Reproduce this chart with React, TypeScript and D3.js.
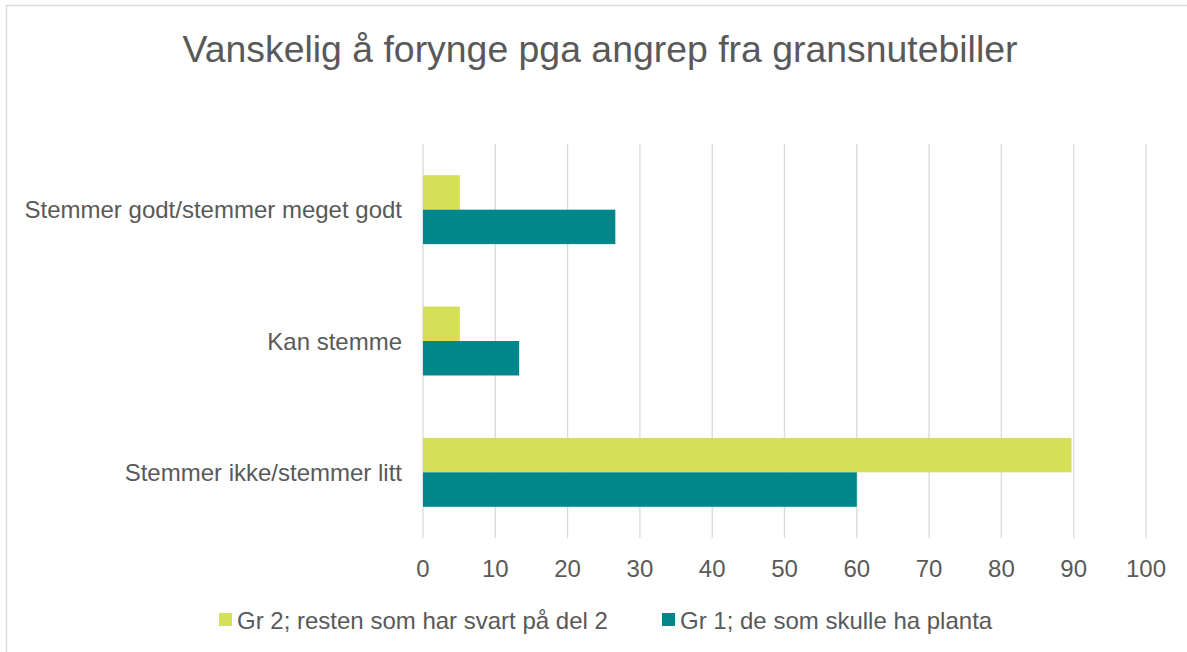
import React from 'react';
import * as d3 from 'd3';

const categories = ['Stemmer godt/stemmer meget godt', 'Kan stemme', 'Stemmer ikke/stemmer litt'];
const seriesNames = ['Gr 2; resten som har svart på del 2', 'Gr 1; de som skulle ha planta'];
const gr2Values = [5.1, 5.1, 89.7];
const gr1Values = [26.6, 13.3, 60.0];
const xTicks = [0, 10, 20, 30, 40, 50, 60, 70, 80, 90, 100];
const colors = ['#d4df5a', '#00878b'];

const W = 1187;
const H = 652;
const font = 'Liberation Sans, Arial, sans-serif';
const textColor = '#595959';

const App = () => {
  const x = d3.scaleLinear().domain([0, 100]).range([423, 1146]);
  const y = d3.scaleBand<string>()
    .domain(categories)
    .range([144, 538])
    .paddingInner(0.475)
    .paddingOuter(0.2375);
  const sub = d3.scaleBand<string>()
    .domain(seriesNames)
    .range([0, y.bandwidth()]);

  const series = [gr2Values, gr1Values];

  return (
    <svg width={W} height={H} style={{ position: 'absolute', left: 0, top: 0 }} fontFamily={font}>
      <rect x={0} y={0} width={W} height={H} fill="#fff" />
      <rect x={6.5} y={5.5} width={W + 10} height={H + 10} fill="none" stroke="#d9d9d9" strokeWidth={1.5} />
      <text x={600} y={49} textAnchor="middle" dominantBaseline="central" fontSize={37.4} fill={textColor}>
        Vanskelig å forynge pga angrep fra gransnutebiller
      </text>

      {xTicks.map(t => (
        <line key={t} x1={x(t)} x2={x(t)} y1={144} y2={538} stroke="#d9d9d9" strokeWidth={1.3} />
      ))}

      {categories.map((c, i) => (
        <g key={c}>
          {series.map((vals, s) => (
            <rect
              key={s}
              x={x(0)}
              y={(y(c) as number) + (sub(seriesNames[s]) as number)}
              width={x(vals[i]) - x(0)}
              height={sub.bandwidth()}
              fill={colors[s]}
            />
          ))}
          <text
            x={402}
            y={(y(c) as number) + y.bandwidth() / 2}
            textAnchor="end"
            dominantBaseline="central"
            fontSize={24}
            fill={textColor}
          >
            {c}
          </text>
        </g>
      ))}

      {xTicks.map(t => (
        <text key={t} x={x(t)} y={568} textAnchor="middle" dominantBaseline="central" fontSize={24} fill={textColor}>
          {t}
        </text>
      ))}

      <g>
        <rect x={219} y={613} width={13} height={13} fill={colors[0]} />
        <text x={237} y={620} dominantBaseline="central" fontSize={24} fill={textColor}>{seriesNames[0]}</text>
        <rect x={662} y={613} width={13} height={13} fill={colors[1]} />
        <text x={680} y={620} dominantBaseline="central" fontSize={24} fill={textColor}>{seriesNames[1]}</text>
      </g>
    </svg>
  );
};

export default App;
